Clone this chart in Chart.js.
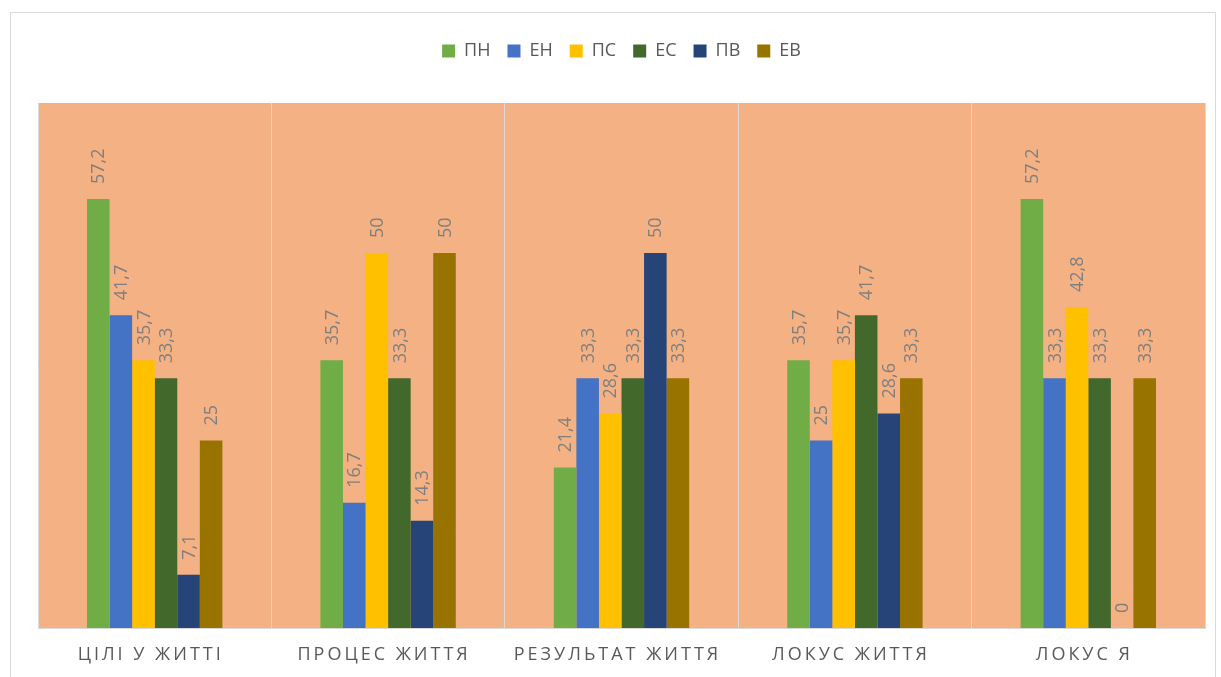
<!DOCTYPE html>
<html>
<head>
<meta charset="utf-8">
<script src="https://cdn.jsdelivr.net/npm/chart.js@4.4.1/dist/chart.umd.min.js"></script>
<style>
    body { margin: 0; background: #fff; }
    #wrap { width: 1221px; height: 677px; position: relative; }
</style>
</head>
<body>
<div id="wrap"><canvas id="myChart"></canvas></div>
<script>
// Категорії та серії
const categories = ['ЦІЛІ У ЖИТТІ', 'ПРОЦЕС ЖИТТЯ', 'РЕЗУЛЬТАТ ЖИТТЯ', 'ЛОКУС ЖИТТЯ', 'ЛОКУС Я'];
const seriesNames = ['ПН', 'ЕН', 'ПС', 'ЕС', 'ПВ', 'ЕВ'];
const pn = [57.2, 35.7, 21.4, 35.7, 57.2];
const en = [41.7, 16.7, 33.3, 25, 33.3];
const ps = [35.7, 50, 28.6, 35.7, 42.8];
const es = [33.3, 33.3, 33.3, 41.7, 33.3];
const pv = [7.1, 14.3, 50, 28.6, 0];
const ev = [25, 50, 33.3, 33.3, 33.3];
const seriesColors = ['#70AD47', '#4472C4', '#FFC000', '#43682B', '#264478', '#997300'];

const allSeries = [pn, en, ps, es, pv, ev];
const FONT = '"Open Sans", "Noto Sans", sans-serif';

// Фон області графіка + рамка
const bgPlugin = {
    id: 'bgPlugin',
    beforeDraw(chart) {
        const {ctx, chartArea} = chart;
        ctx.save();
        ctx.strokeStyle = '#D9D9D9';
        ctx.lineWidth = 1;
        ctx.strokeRect(10.5, 12.5, 1205, 670);
        ctx.fillStyle = '#F4B183';
        ctx.fillRect(chartArea.left, chartArea.top, chartArea.right - chartArea.left, chartArea.bottom - chartArea.top);
        ctx.restore();
    }
};

// Відступ під легендою
const legendGap = {
    id: 'legendGap',
    beforeInit(chart) {
        const origFit = chart.legend.fit;
        chart.legend.fit = function () {
            origFit.bind(chart.legend)();
            this.height += 33;
        };
    }
};

// Підписи значень (вертикальні) та підписи категорій з розрядкою
const labelsPlugin = {
    id: 'labelsPlugin',
    afterDatasetsDraw(chart) {
        const {ctx} = chart;
        ctx.save();
        ctx.font = '18px ' + FONT;
        ctx.fillStyle = '#7F7F7F';
        ctx.textAlign = 'left';
        ctx.textBaseline = 'middle';
        chart.data.datasets.forEach((ds, di) => {
            chart.getDatasetMeta(di).data.forEach((bar, i) => {
                const txt = String(ds.data[i]).replace('.', ',');
                ctx.save();
                ctx.translate(bar.x + 1, bar.y - 15);
                ctx.rotate(-Math.PI / 2);
                ctx.fillText(txt, 0, 0);
                ctx.restore();
            });
        });
        ctx.restore();
    },
    afterDraw(chart) {
        const {ctx} = chart;
        const xScale = chart.scales.x;
        ctx.save();
        ctx.font = '18px ' + FONT;
        ctx.fillStyle = '#595959';
        ctx.textAlign = 'center';
        ctx.textBaseline = 'middle';
        ctx.letterSpacing = '3px';
        categories.forEach((c, i) => {
            ctx.fillText(c, xScale.getPixelForTick(i) - 4, 655);
        });
        ctx.restore();
    }
};

const ctx = document.getElementById('myChart');

new Chart(ctx, {
    type: 'bar',
    data: {
        labels: categories,
        datasets: seriesNames.map((name, k) => ({
            label: name,
            data: allSeries[k],
            backgroundColor: seriesColors[k],
            borderWidth: 0,
            barPercentage: 1,
            categoryPercentage: 0.58,
        }))
    },
    options: {
        responsive: true,
        maintainAspectRatio: false,
        animation: false,
        layout: {
            padding: { top: 25, left: 38, right: 16, bottom: 49 }
        },
        plugins: {
            legend: {
                position: 'top',
                labels: {
                    boxWidth: 13,
                    boxHeight: 13,
                    padding: 17,
                    color: '#595959',
                    font: { family: FONT, size: 18 }
                }
            },
            tooltip: { enabled: false }
        },
        scales: {
            x: {
                grid: {
                    color: '#D9D9D9',
                    drawTicks: false,
                    offset: true
                },
                border: { color: '#D9D9D9' },
                ticks: { display: false }
            },
            y: {
                display: false,
                min: 0,
                max: 70
            }
        }
    },
    plugins: [bgPlugin, legendGap, labelsPlugin],
});
</script>
</body>
</html>
